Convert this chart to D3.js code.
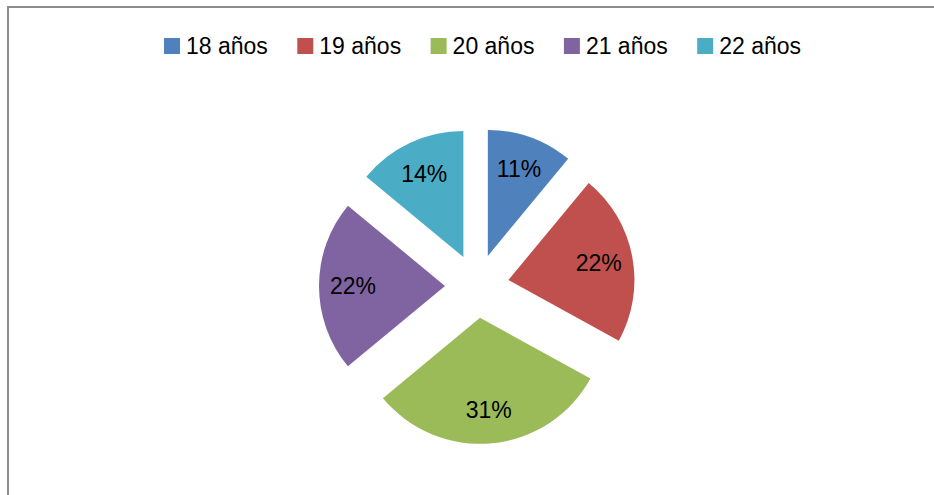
<!DOCTYPE html>
<html>
<head>
<meta charset="utf-8">
<script src="https://cdn.jsdelivr.net/npm/d3@7"></script>
<style>
  body { margin: 0; background: #fff; }
  svg text { font-family: "Liberation Sans", Arial, sans-serif; fill: #000; }
</style>
</head>
<body>
<script>
// chart data
const categories = ["18 años", "19 años", "20 años", "21 años", "22 años"];
const values = [11, 22, 31, 22, 14];
const colors = ["#4F81BD", "#C0504D", "#9BBB59", "#8064A2", "#4BACC6"];

const width = 934;
const height = 495;
const center = { x: 477, y: 286 };
const radius = 126;
const explode = 32;

const svg = d3.select("body").append("svg")
  .attr("width", width)
  .attr("height", height);

// chart area frame (only top and left edges are visible)
svg.append("path")
  .attr("d", `M8,${height} V7 H${width}`)
  .attr("fill", "none")
  .attr("stroke", "#8c8c8c")
  .attr("stroke-width", 2);

// legend
const legend = svg.append("g")
  .attr("class", "legend")
  .attr("transform", "translate(164,38)");

const item = legend.selectAll("g")
  .data(categories)
  .enter().append("g")
    .attr("transform", (d, i) => `translate(${i * 133.3},0)`);

item.append("rect")
  .attr("width", 16)
  .attr("height", 16)
  .attr("fill", (d, i) => colors[i]);

item.append("text")
  .attr("x", 22)
  .attr("y", 16)
  .attr("font-size", 23)
  .text(d => d);

// pie
const pie = d3.pie().sort(null).value(d => d);
const arc = d3.arc().innerRadius(0).outerRadius(radius);
const labelArc = d3.arc().innerRadius(92).outerRadius(92);

const slices = svg.append("g")
  .attr("class", "pie")
  .attr("transform", `translate(${center.x},${center.y})`)
  .selectAll("g")
  .data(pie(values))
  .enter().append("g")
    .attr("transform", d => {
      const mid = (d.startAngle + d.endAngle) / 2;
      return `translate(${explode * Math.sin(mid)},${-explode * Math.cos(mid)})`;
    });

slices.append("path")
  .attr("d", arc)
  .attr("fill", (d, i) => colors[i]);

slices.append("text")
  .attr("transform", d => `translate(${labelArc.centroid(d)})`)
  .attr("text-anchor", "middle")
  .attr("dy", "0.35em")
  .attr("font-size", 23)
  .text(d => d.data + "%");
</script>
</body>
</html>
